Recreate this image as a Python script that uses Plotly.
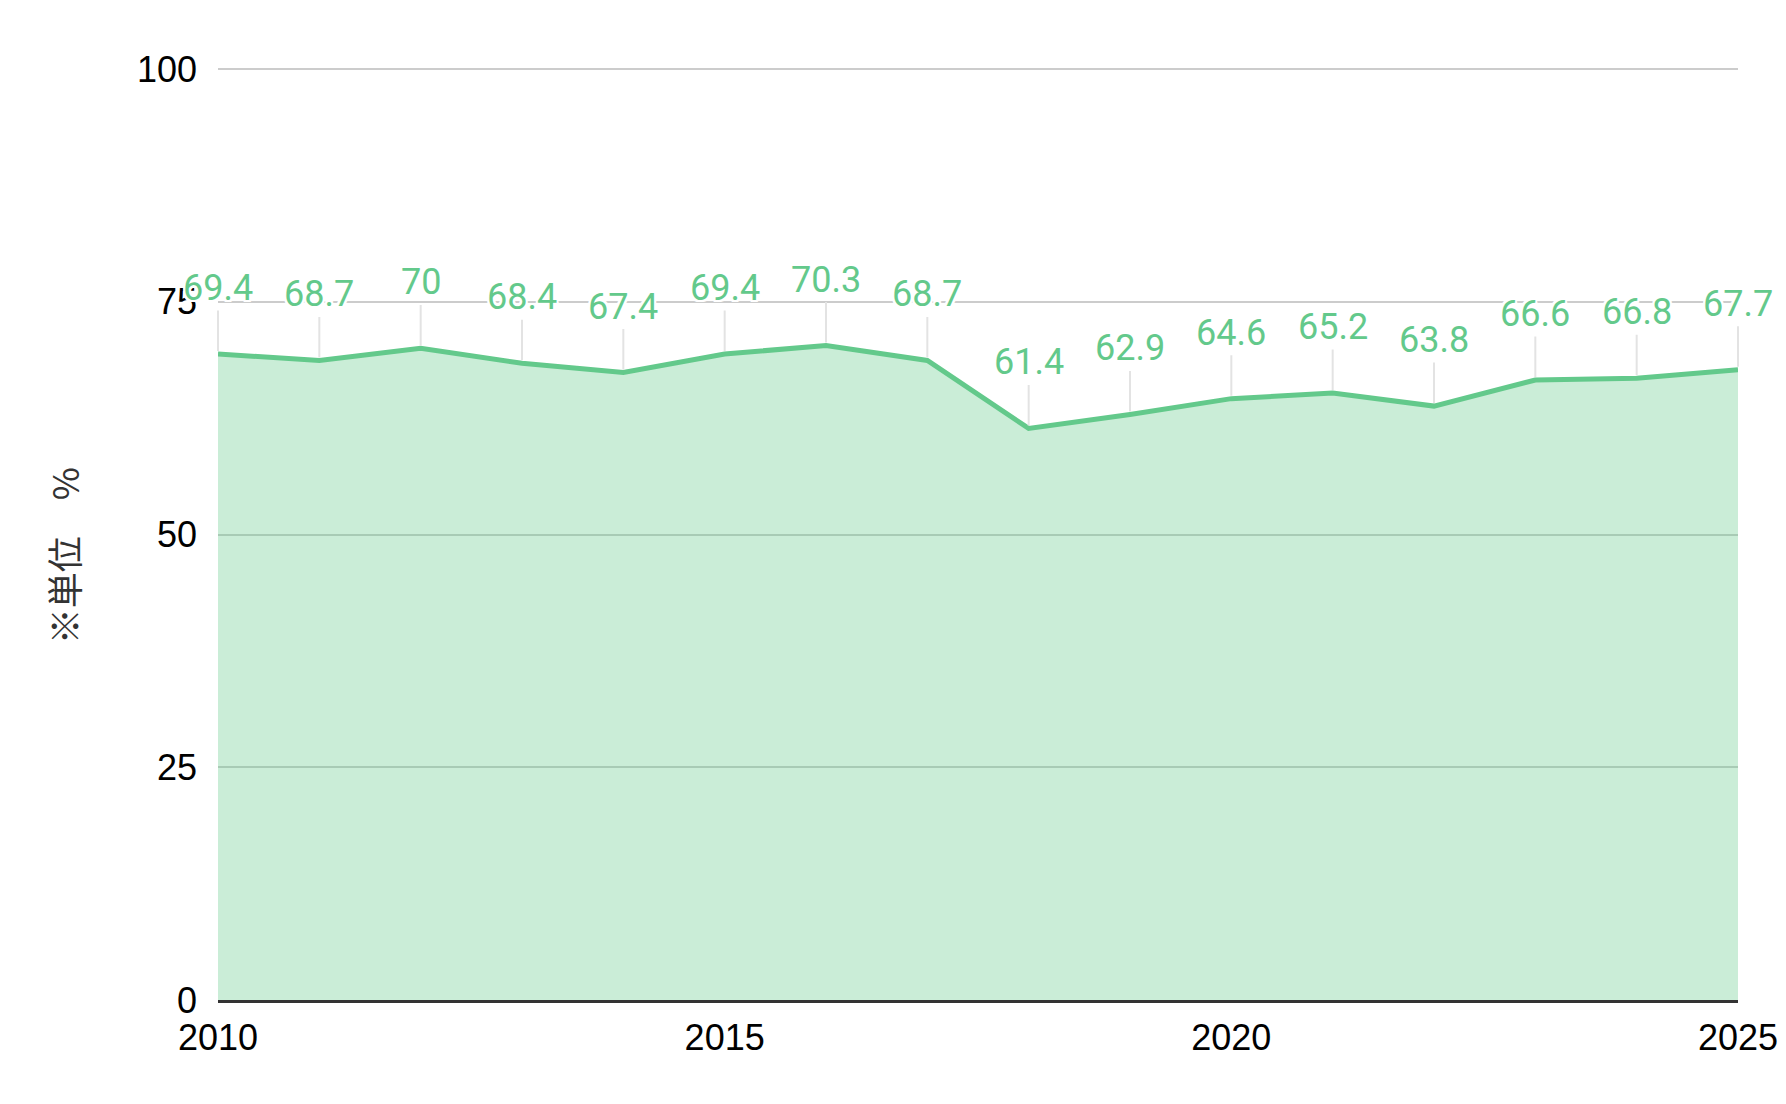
import plotly.graph_objects as go

years = [2010, 2011, 2012, 2013, 2014, 2015, 2016, 2017, 2018, 2019, 2020, 2021, 2022, 2023, 2024, 2025]
values = [69.4, 68.7, 70, 68.4, 67.4, 69.4, 70.3, 68.7, 61.4, 62.9, 64.6, 65.2, 63.8, 66.6, 66.8, 67.7]
y_title = "※単位　%"
y_ticks = [0, 25, 50, 75, 100]
x_ticks = [2010, 2015, 2020, 2025]

LINE = "rgb(99,201,139)"
FILL = "rgba(99,201,139,0.34)"

fig = go.Figure()
fig.add_trace(go.Scatter(
    x=years, y=values, mode="lines", fill="tozeroy",
    line=dict(color=LINE, width=5), fillcolor=FILL,
    hoverinfo="skip", showlegend=False,
))

halo = ", ".join(f"{dx}px {dy}px 0 #fff" for dx in (-2, 0, 2) for dy in (-2, 0, 2) if dx or dy)
for x, v in zip(years, values):
    fig.add_annotation(
        x=x, y=v, xref="x", yref="y", text=f"{v:g}",
        showarrow=True, arrowhead=0, arrowwidth=2, arrowcolor="#e3e3e3",
        ax=0, ay=-66, standoff=3,
        font=dict(family="Roboto, Arial", size=36, color=LINE, shadow=halo),
    )

fig.add_annotation(
    text=y_title, xref="paper", yref="paper", x=-0.1015, y=0.477,
    showarrow=False, textangle=-90, xanchor="center", yanchor="middle",
    font=dict(family="Noto Sans CJK JP", size=36, color="#333333"),
)

fig.update_layout(
    width=1786, height=1104,
    margin=dict(l=210, r=56, t=60, b=112, autoexpand=False),
    paper_bgcolor="white", plot_bgcolor="white",
    font=dict(family="Liberation Sans, Arial", size=36, color="#000000"),
)
fig.update_xaxes(
    range=[2010, 2025], tickvals=x_ticks, ticktext=[str(t) for t in x_ticks],
    showgrid=False, zeroline=False, showline=True, linecolor="#333333", linewidth=3,
    ticks="", ticklabelstandoff=4, layer="above traces", automargin=False,
    tickfont=dict(family="Liberation Sans, Arial", size=36, color="#000"),
)
fig.update_yaxes(
    range=[0, 100.12], tickvals=y_ticks, showgrid=True, gridcolor="#cccccc", gridwidth=2,
    zeroline=False, showline=False, ticks="", ticklabelstandoff=20, automargin=False,
    tickfont=dict(family="Liberation Sans, Arial", size=36, color="#000"),
)

fig.write_html("out.html")
